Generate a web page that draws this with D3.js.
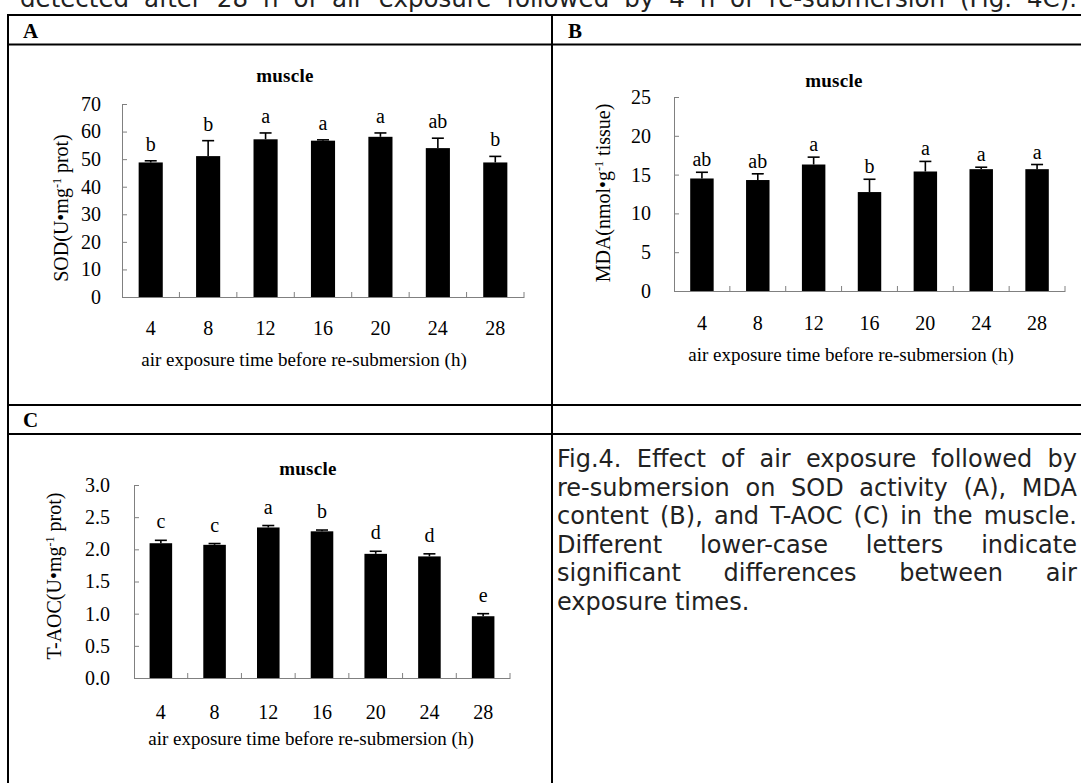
<!DOCTYPE html>
<html>
<head>
<meta charset="utf-8">
<script src="https://cdn.jsdelivr.net/npm/d3@7"></script>
<style>
  html, body { margin: 0; padding: 0; background: #fff; }
  svg { display: block; }
</style>
</head>
<body>
<svg id="fig" width="1081" height="783"></svg>
<script>
// Air exposure time before re-submersion (h)
const hours = ["4", "8", "12", "16", "20", "24", "28"];

// SOD activity in muscle, U·mg⁻¹ prot
const sodMean    = [48.8, 51.1, 57.2, 56.7, 58.1, 54.0, 48.8];
const sodErr     = [0.6, 5.6, 2.3, 0.3, 1.4, 3.6, 2.2];
const sodLetters = ["b", "b", "a", "a", "a", "ab", "b"];
const sodTicks   = [0, 10, 20, 30, 40, 50, 60, 70];

// MDA content in muscle, nmol·g⁻¹ tissue
const mdaMean    = [14.5, 14.3, 16.3, 12.75, 15.4, 15.7, 15.7];
const mdaErr     = [0.8, 0.8, 0.95, 1.65, 1.3, 0.25, 0.6];
const mdaLetters = ["ab", "ab", "a", "b", "a", "a", "a"];
const mdaTicks   = [0, 5, 10, 15, 20, 25];

// T-AOC in muscle, U·mg⁻¹ prot
const taocMean    = [2.095, 2.07, 2.34, 2.28, 1.93, 1.89, 0.96];
const taocErr     = [0.045, 0.02, 0.03, 0.02, 0.04, 0.04, 0.04];
const taocLetters = ["c", "c", "a", "b", "d", "d", "e"];
const taocTicks   = [0, 0.5, 1.0, 1.5, 2.0, 2.5, 3.0];

const xTitle = "air exposure time before re-submersion (h)";
const panelTitle = "muscle";

const topLine = "detected after 28 h of air exposure followed by 4 h of re-submersion (Fig. 4C).";
const captionLines = [
  "Fig.4. Effect of air exposure followed by",
  "re-submersion on SOD activity (A), MDA",
  "content (B), and T-AOC (C) in the muscle.",
  "Different lower-case letters indicate",
  "significant differences between air",
  "exposure times."
];

const SERIF = "'Liberation Serif', 'Times New Roman', serif";
const SANS = "'DejaVu Sans', Verdana, sans-serif";
const AXIS = "#808080";

const svg = d3.select("#fig");

// Stretch word gaps so a line fills [x0, x1] (justified text)
function justify(sel, x0, x1) {
  const node = sel.node();
  const gaps = node.textContent.trim().split(/\s+/).length - 1;
  const natural = node.getComputedTextLength();
  if (gaps > 0) sel.attr("word-spacing", (x1 - x0 - natural) / gaps);
}

// ---- running text above the table ----
const tl = svg.append("text")
  .attr("x", 20).attr("y", 7)
  .attr("font-family", SANS).attr("font-size", 24.5).attr("fill", "#222")
  .text(topLine);
justify(tl, 20, 1077);

// ---- table frame ----
const frame = svg.append("g").attr("stroke", "#000").attr("stroke-width", 2);
[15, 44.5, 405, 434].forEach(yy =>
  frame.append("line").attr("x1", 7).attr("x2", 1090).attr("y1", yy).attr("y2", yy));
[8, 552].forEach(xx =>
  frame.append("line").attr("x1", xx).attr("x2", xx).attr("y1", 14).attr("y2", 790));

[["A", 23, 38], ["B", 568, 38], ["C", 23, 427]].forEach(([t, xx, yy]) =>
  svg.append("text").attr("x", xx).attr("y", yy)
    .attr("font-family", SERIF).attr("font-weight", "bold").attr("font-size", 21)
    .text(t));

// ---- caption cell ----
captionLines.forEach((line, i) => {
  const t = svg.append("text")
    .attr("x", 557).attr("y", 467 + i * 28.5)
    .attr("font-family", SANS).attr("font-size", 24).attr("fill", "#222")
    .text(line);
  if (i < captionLines.length - 1) justify(t, 557, 1077);
});

// ---- bar chart panel ----
function drawPanel(cfg) {
  const g = svg.append("g");
  const x = d3.scaleBand().domain(hours).range([cfg.x0, cfg.x1]).padding(0);
  const y = d3.scaleLinear().domain(cfg.domain).range([cfg.yBottom, cfg.yTop]);
  const barW = x.bandwidth() * 0.42;

  // y axis with inward ticks
  const ya = g.append("g")
    .attr("transform", `translate(${cfg.x0},0)`)
    .call(d3.axisLeft(y).tickValues(cfg.ticks).tickFormat(cfg.fmt)
      .tickSizeInner(-5).tickSizeOuter(0).tickPadding(cfg.x0 - cfg.labelRight));
  ya.select(".domain").attr("stroke", AXIS);
  ya.selectAll(".tick line").attr("stroke", AXIS);
  ya.selectAll(".tick text")
    .attr("font-family", SERIF).attr("font-size", 20).attr("fill", "#000");

  // x axis: category labels centred under the bars
  const xa = g.append("g")
    .attr("transform", `translate(0,${cfg.yBottom})`)
    .call(d3.axisBottom(x).tickSizeInner(0).tickSizeOuter(0));
  xa.select(".domain").attr("stroke", AXIS);
  xa.selectAll(".tick text")
    .attr("font-family", SERIF).attr("font-size", 20).attr("fill", "#000")
    .attr("dy", null).attr("y", cfg.xLabelBase - cfg.yBottom);

  // band boundary ticks pointing into the plot
  d3.range(1, hours.length + 1).forEach(i => {
    const bx = cfg.x0 + i * x.step();
    g.append("line").attr("x1", bx).attr("x2", bx)
      .attr("y1", cfg.yBottom).attr("y2", cfg.yBottom - 5)
      .attr("stroke", AXIS);
  });

  const rows = hours.map((h, i) => ({ h, v: cfg.mean[i], e: cfg.err[i], l: cfg.letters[i] }));

  // bars
  g.selectAll("rect.bar").data(rows).join("rect")
    .attr("class", "bar")
    .attr("x", d => x(d.h) + (x.bandwidth() - barW) / 2)
    .attr("y", d => y(d.v))
    .attr("width", barW)
    .attr("height", d => cfg.yBottom - y(d.v))
    .attr("fill", "#000");

  // upper error bars with caps
  const eb = g.selectAll("g.err").data(rows).join("g").attr("class", "err")
    .attr("stroke", "#000").attr("stroke-width", 1.6);
  eb.append("line")
    .attr("x1", d => x(d.h) + x.bandwidth() / 2)
    .attr("x2", d => x(d.h) + x.bandwidth() / 2)
    .attr("y1", d => y(d.v)).attr("y2", d => y(d.v + d.e));
  eb.append("line")
    .attr("x1", d => x(d.h) + x.bandwidth() / 2 - 6)
    .attr("x2", d => x(d.h) + x.bandwidth() / 2 + 6)
    .attr("y1", d => y(d.v + d.e)).attr("y2", d => y(d.v + d.e));

  // significance letters
  g.selectAll("text.sig").data(rows).join("text")
    .attr("class", "sig")
    .attr("x", d => x(d.h) + x.bandwidth() / 2)
    .attr("y", d => y(d.v + d.e) - cfg.letterGap)
    .attr("text-anchor", "middle")
    .attr("font-family", SERIF).attr("font-size", 20)
    .text(d => d.l);

  // panel title
  g.append("text")
    .attr("x", cfg.titleX).attr("y", cfg.titleBase)
    .attr("text-anchor", "middle")
    .attr("font-family", SERIF).attr("font-weight", "bold").attr("font-size", 19)
    .attr("letter-spacing", 0.3)
    .text(panelTitle);

  // x axis title
  g.append("text")
    .attr("x", cfg.xTitleX).attr("y", cfg.xTitleBase)
    .attr("text-anchor", "middle")
    .attr("font-family", SERIF).attr("font-size", 19)
    .text(xTitle);

  // y axis title with superscript
  const yt = g.append("text")
    .attr("transform", `translate(${cfg.yTitleX},${cfg.yTitleY}) rotate(-90)`)
    .attr("text-anchor", "middle")
    .attr("dy", "0.35em")
    .attr("font-family", SERIF).attr("font-size", 20);
  yt.append("tspan").text(cfg.yLabel[0]);
  yt.append("tspan").attr("font-size", 12).attr("baseline-shift", "55%").text("-1");
  yt.append("tspan").text(cfg.yLabel[1]);
}

drawPanel({
  x0: 122, x1: 524, yBottom: 297, yTop: 104,
  domain: [0, 70], ticks: sodTicks, fmt: d3.format("d"), labelRight: 101,
  mean: sodMean, err: sodErr, letters: sodLetters, letterGap: 10,
  xLabelBase: 335, titleX: 285, titleBase: 82,
  xTitleX: 304, xTitleBase: 366,
  yTitleX: 61, yTitleY: 208, yLabel: ["SOD(U\u2022mg", "  prot)"]
});

drawPanel({
  x0: 674, x1: 1065, yBottom: 291, yTop: 97,
  domain: [0, 25], ticks: mdaTicks, fmt: d3.format("d"), labelRight: 651,
  mean: mdaMean, err: mdaErr, letters: mdaLetters, letterGap: 6,
  xLabelBase: 330, titleX: 834, titleBase: 87,
  xTitleX: 851, xTitleBase: 361,
  yTitleX: 603, yTitleY: 193, yLabel: ["MDA(nmol\u2022g", " tissue)"]
});

drawPanel({
  x0: 134, x1: 510, yBottom: 678, yTop: 485,
  domain: [0, 3], ticks: taocTicks, fmt: d3.format(".1f"), labelRight: 110,
  mean: taocMean, err: taocErr, letters: taocLetters, letterGap: 12,
  xLabelBase: 719, titleX: 308, titleBase: 475,
  xTitleX: 311, xTitleBase: 745,
  yTitleX: 54, yTitleY: 576, yLabel: ["T-AOC(U\u2022mg", "  prot)"]
});
</script>
</body>
</html>
